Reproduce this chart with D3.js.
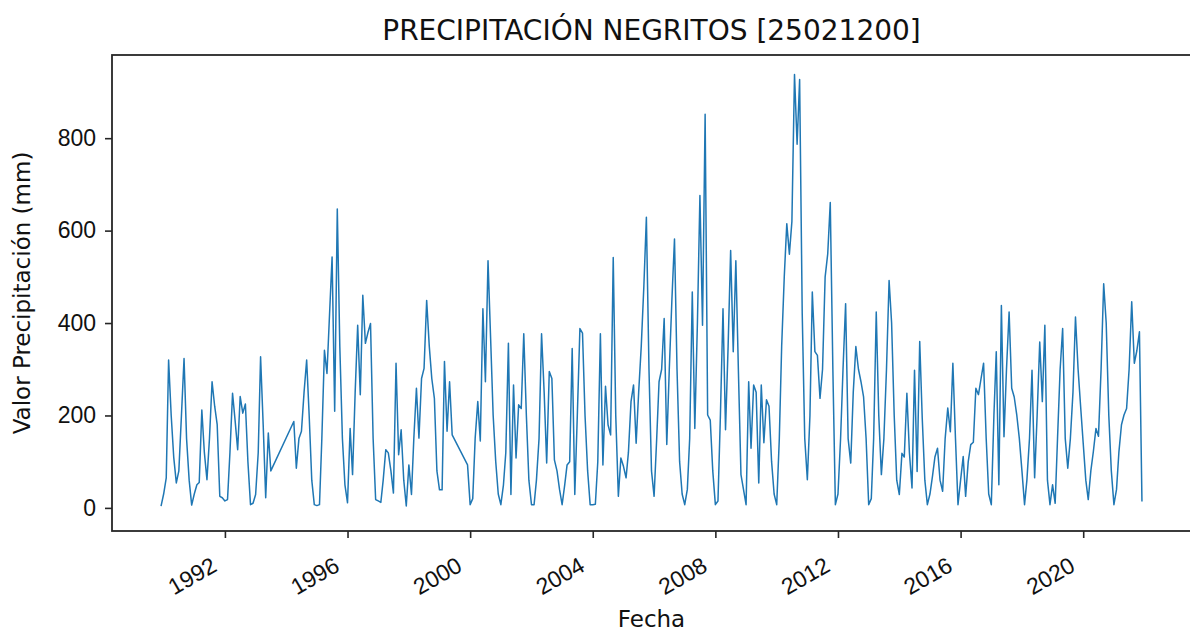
<!DOCTYPE html>
<html>
<head>
<meta charset="utf-8">
<script src="https://cdn.jsdelivr.net/npm/d3@7/dist/d3.min.js"></script>
<style>
    html, body { margin: 0; padding: 0; background: #fff; }
    svg { display: block; font-family: "DejaVu Sans", sans-serif; }
</style>
</head>
<body>
<div id="chart"></div>
<script>
// Monthly precipitation (mm), series begins Dec 1989. null = month missing in the record
var inicio = [1989, 11];
var p1989 = [4];
var p1990 = [30, 65, 320, 200, 110, 54, 80, 200, 323, 150, 60, 6];
var p1991 = [30, 50, 55, 212, 120, 61, 150, 273, 220, 180, 25, 22];
var p1992 = [15, 18, 120, 248, 190, 126, 241, 205, 225, 100, 7, 10];
var p1993 = [29, 120, 327, 180, 22, 162, 80, null, null, null, null, null];
var p1994 = [null, null, null, 187, 86, 150, 166, 250, 320, 200, 60, 7];
var p1995 = [5, 7, 150, 341, 291, 420, 543, 209, 647, 350, 150, 50];
var p1996 = [11, 172, 72, 250, 395, 245, 460, 356, 380, 399, 150, 18];
var p1997 = [15, 12, 60, 126, 119, 80, 32, 313, 115, 169, 60, 4];
var p1998 = [93, 29, 150, 259, 151, 280, 302, 449, 350, 280, 237, 80];
var p1999 = [39, 39, 317, 166, 273, 158, null, null, null, null, null, 93];
var p2000 = [7, 20, 151, 230, 145, 431, 273, 535, 367, 201, 100, 30];
var p2001 = [7, 50, 120, 356, 29, 266, 108, 223, 215, 377, 200, 60];
var p2002 = [7, 7, 60, 150, 377, 250, 97, 295, 280, 104, 80, 40];
var p2003 = [7, 50, 93, 100, 345, 29, 200, 388, 378, 200, 80, 7];
var p2004 = [7, 8, 100, 377, 93, 263, 180, 158, 542, 200, 25, 108];
var p2005 = [90, 65, 120, 230, 266, 140, 250, 350, 480, 629, 300, 80];
var p2006 = [25, 150, 273, 300, 410, 137, 300, 450, 582, 300, 100, 30];
var p2007 = [7, 40, 150, 467, 172, 400, 676, 395, 852, 201, 190, 80];
var p2008 = [7, 15, 200, 431, 169, 350, 557, 338, 535, 300, 72, 40];
var p2009 = [7, 273, 129, 266, 250, 54, 266, 141, 234, 220, 100, 30];
var p2010 = [7, 150, 350, 500, 615, 549, 620, 938, 787, 927, 420, 150];
var p2011 = [61, 200, 467, 338, 330, 237, 300, 500, 550, 661, 300, 7];
var p2012 = [30, 150, 300, 442, 150, 97, 250, 349, 300, 273, 240, 150];
var p2013 = [7, 20, 150, 424, 200, 72, 150, 300, 492, 400, 200, 60];
var p2014 = [29, 118, 110, 248, 120, 43, 298, 79, 360, 194, 60, 7];
var p2015 = [30, 70, 110, 129, 60, 36, 150, 216, 165, 313, 150, 7];
var p2016 = [60, 111, 25, 100, 137, 142, 259, 245, 280, 313, 150, 30];
var p2017 = [7, 200, 338, 50, 438, 154, 300, 424, 259, 240, 200, 150];
var p2018 = [80, 7, 60, 150, 298, 65, 200, 359, 230, 395, 60, 7];
var p2019 = [50, 10, 150, 300, 388, 150, 86, 150, 250, 413, 300, 220];
var p2020 = [140, 60, 18, 80, 122, 172, 155, 300, 485, 400, 200, 80];
var p2021 = [7, 40, 120, 180, 201, 215, 300, 446, 313, 340, 381, 14];

var yTicks = [0, 200, 400, 600, 800];
var xTickYears = [1992, 1996, 2000, 2004, 2008, 2012, 2016, 2020];

var titulo = 'PRECIPITACIÓN NEGRITOS [25021200]';
var yLabelText = 'Valor Precipitación (mm)';
var xLabelText = 'Fecha';

(function drawChart() {

    var width = 1190, height = 633;
    var margin = {top: 55, left: 112, bottom: 531, right: 1191};
    var lineColor = '#1f77b4';
    var axisColor = '#262626';

    var todos = [].concat(p1989, p1990, p1991, p1992, p1993, p1994, p1995, p1996, p1997,
        p1998, p1999, p2000, p2001, p2002, p2003, p2004, p2005, p2006, p2007, p2008,
        p2009, p2010, p2011, p2012, p2013, p2014, p2015, p2016, p2017, p2018, p2019,
        p2020, p2021);

    // Build date/value pairs, months without record are dropped (line joins across them)
    var data = [];
    todos.forEach(function(v, i) {
        if (v !== null) {
            data.push({fecha: new Date(inicio[0], inicio[1] + i, 1), valor: v});
        }
    });

    // Same 5% margins matplotlib would give on the date axis
    var first = new Date(inicio[0], inicio[1], 1);
    var last = new Date(inicio[0], inicio[1] + todos.length - 1, 1);
    var pad = (last - first) * 0.05;

    var xScale = d3.scaleTime()
        .domain([new Date(+first - pad), new Date(+last + pad)])
        .range([margin.left, margin.right]);

    var yScale = d3.scaleLinear()
        .domain([-50, 980])
        .range([margin.bottom, margin.top]);

    var svg = d3.select('#chart').append('svg')
        .attr('width', width)
        .attr('height', height);

    // Series line
    var line = d3.line()
        .x(function(d) { return xScale(d.fecha); })
        .y(function(d) { return yScale(d.valor); });

    svg.append('path')
        .datum(data)
        .attr('fill', 'none')
        .attr('stroke', lineColor)
        .attr('stroke-width', 1.5)
        .attr('stroke-linejoin', 'round')
        .attr('d', line);

    // Axes
    var xAxis = d3.axisBottom(xScale)
        .tickValues(xTickYears.map(function(y) { return new Date(y, 0, 1); }))
        .tickFormat(d3.timeFormat('%Y'))
        .tickSize(7)
        .tickSizeOuter(0);

    var gx = svg.append('g')
        .attr('class', 'x axis')
        .attr('transform', 'translate(0,' + margin.bottom + ')')
        .call(xAxis);
    gx.select('.domain').remove();
    gx.selectAll('.tick line').attr('stroke', axisColor).attr('stroke-width', 1.6);
    gx.selectAll('.tick text')
        .attr('x', 0)
        .attr('y', 0)
        .attr('dy', 0)
        .attr('fill', '#111')
        .style('font-size', '23px')
        .style('text-anchor', 'end')
        .attr('transform', 'translate(-7,39) rotate(-30)');

    var yAxis = d3.axisLeft(yScale)
        .tickValues(yTicks)
        .tickSize(7)
        .tickPadding(9)
        .tickSizeOuter(0);

    var gy = svg.append('g')
        .attr('class', 'y axis')
        .attr('transform', 'translate(' + margin.left + ',0)')
        .call(yAxis);
    gy.select('.domain').remove();
    gy.selectAll('.tick line').attr('stroke', axisColor).attr('stroke-width', 1.6);
    gy.selectAll('.tick text')
        .attr('fill', '#111')
        .style('font-size', '23px');

    // Frame (right side falls just past the picture edge, like the original)
    svg.append('rect')
        .attr('x', margin.left)
        .attr('y', margin.top)
        .attr('width', margin.right - margin.left)
        .attr('height', margin.bottom - margin.top)
        .attr('fill', 'none')
        .attr('stroke', axisColor)
        .attr('stroke-width', 1.8);

    var midX = (margin.left + margin.right) / 2;

    svg.append('text')
        .attr('class', 'title')
        .attr('x', midX)
        .attr('y', 40)
        .attr('fill', '#111')
        .style('text-anchor', 'middle')
        .style('font-size', '28px')
        .text(titulo);

    svg.append('text')
        .attr('class', 'label')
        .attr('x', midX)
        .attr('y', 627)
        .attr('fill', '#111')
        .style('text-anchor', 'middle')
        .style('font-size', '23px')
        .text(xLabelText);

    svg.append('text')
        .attr('class', 'label')
        .attr('transform', 'translate(30,' + ((margin.top + margin.bottom) / 2) + ') rotate(-90)')
        .attr('fill', '#111')
        .style('text-anchor', 'middle')
        .style('font-size', '23px')
        .text(yLabelText);
})();
</script>
</body>
</html>
